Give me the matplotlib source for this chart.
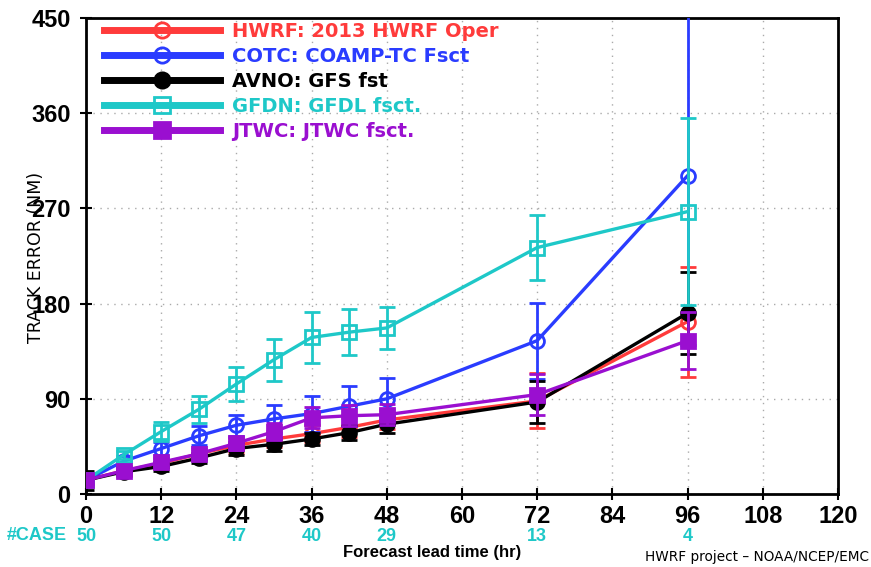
import matplotlib
matplotlib.use("Agg")
import matplotlib.pyplot as plt
from matplotlib.lines import Line2D
import numpy as np

lead = [0, 6, 12, 18, 24, 30, 36, 42, 48, 72, 96]
hwrf = [13, 22, 29, 38, 46, 52, 57, 63, 70, 88, 163]
cotc = [13, 31, 43, 55, 65, 71, 76, 83, 90, 145, 301]
avno = [13, 21, 26, 34, 43, 47, 52, 58, 66, 87, 171]
gfdn = [13, 37, 59, 80, 104, 127, 148, 153, 157, 233, 267]
jtwc = [13, 22, 30, 38, 48, 59, 72, 74, 75, 94, 145]

hwrf_err = [5, 4, 5, 6, 7, 8, 8, 9, 9, 26, 52]
cotc_err = [4, 5, 6, 9, 10, 13, 17, 19, 20, 36, 160]
avno_err = [9, 4, 4, 5, 6, 6, 6, 7, 8, 20, 39]
gfdn_err = [4, 4, 9, 13, 16, 20, 24, 22, 20, 31, 88]
jtwc_err = [4, 3, 4, 5, 6, 8, 10, 10, 10, 19, 27]

labels = ["HWRF: 2013 HWRF Oper", "COTC: COAMP-TC Fsct", "AVNO: GFS fst",
          "GFDN: GFDL fsct.", "JTWC: JTWC fsct."]

case_hours = [0, 12, 24, 36, 48, 72, 96]
case_counts = [50, 50, 47, 40, 29, 13, 4]

xticks = [0, 12, 24, 36, 48, 60, 72, 84, 96, 108, 120]
yticks = [0, 90, 180, 270, 360, 450]

colors = ["#ff3b3b", "#2a3cff", "#000000", "#1ec8c8", "#9a0fd0"]
markers = ["o", "o", "o", "s", "s"]
filled = [False, False, True, False, True]

series = [hwrf, cotc, avno, gfdn, jtwc]
errs = [hwrf_err, cotc_err, avno_err, gfdn_err, jtwc_err]

NARROW = "Liberation Sans"

fig = plt.figure(figsize=(8.71, 5.67), dpi=100)
ax = fig.add_axes([86/871, 1-494/567, (838-86)/871, (494-18)/567])

for i, (vals, err) in enumerate(zip(series, errs)):
    c = colors[i]
    ax.errorbar(lead, vals, yerr=err, color=c, lw=2.4, marker=markers[i],
                ms=10, mew=2, mfc=c if filled[i] else "none", mec=c,
                capsize=6, capthick=2, elinewidth=2, zorder=3 + i)

ax.set_xlim(0, 120)
ax.set_ylim(0, 450)
ax.set_xticks(xticks)
ax.set_yticks(yticks)
ax.set_xticklabels([str(t) for t in xticks], fontsize=17, fontweight="bold", family=NARROW)
ax.set_yticklabels([str(t) for t in yticks], fontsize=17, fontweight="bold", family=NARROW)
ax.tick_params(direction="inout", length=8, width=1.5)
ax.tick_params(axis="x", pad=4)
ax.tick_params(axis="y", pad=7)
ax.grid(True, ls=(0, (1, 4)), color="#aaaaaa", lw=1)
for s in ax.spines.values():
    s.set_linewidth(2)

# legend
handles = []
for i in range(5):
    c = colors[i]
    handles.append(Line2D([], [], color=c, lw=5, marker=markers[i], ms=11, mew=2,
                          mfc=c if filled[i] else "none", mec=c))
leg = ax.legend(handles, labels, loc="upper left", bbox_to_anchor=(0.0, 1.028),
                frameon=False, handlelength=6.0, handletextpad=0.6,
                labelspacing=0.31, prop={"size": 14, "weight": "bold", "family": "DejaVu Sans"})
for t, c in zip(leg.get_texts(), colors):
    t.set_color(c)

# y label
fig.text(36/871, 1-257/567, "TRACK ERROR (NM)", rotation=90, ha="center", va="center",
         fontsize=12.5, family="DejaVu Sans")

# case counts
case_color = "#1ec8c8"
fig.text(7/871, 1-536/567, "#CASE", color=case_color, fontsize=13, fontweight="bold",
         ha="left", va="center", family=NARROW)
for h, n in zip(case_hours, case_counts):
    ax.text(h, -0.09, str(n), transform=ax.get_xaxis_transform(), color=case_color,
            fontsize=13, fontweight="bold", ha="center", va="center", family=NARROW)

fig.text(432/871, 1-553/567, "Forecast lead time (hr)", ha="center", va="center",
         fontsize=12, fontweight="bold", family=NARROW)
fig.text(869/871, 1-557/567, "HWRF project \u2013 NOAA/NCEP/EMC", ha="right", va="center",
         fontsize=9.8, family="DejaVu Sans")

fig.savefig("out.png", dpi=100)
